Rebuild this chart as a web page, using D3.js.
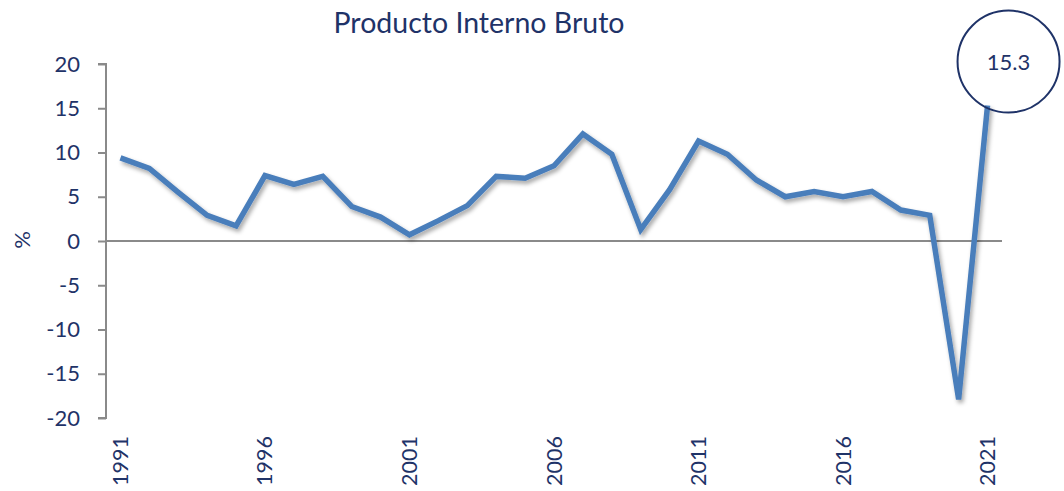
<!DOCTYPE html>
<html><head><meta charset="utf-8">
<script src="https://cdn.jsdelivr.net/npm/d3@7"></script>
<style>body{margin:0;background:#fff}svg{display:block}</style>
</head><body>
<svg id="c" width="1064" height="491"></svg>
<script>
const years = d3.range(1991, 2022).map(String);
const gdpGrowth = [9.4, 8.2, 5.5, 2.9, 1.7, 7.4, 6.4, 7.3, 3.9, 2.7, 0.7, 2.3, 4.0, 7.3, 7.1, 8.5, 12.1, 9.8, 1.3, 5.8, 11.3, 9.8, 6.9, 5.0, 5.6, 5.0, 5.6, 3.5, 2.9, -17.9, 15.3];
const yTicks = [20, 15, 10, 5, 0, -5, -10, -15, -20];
const xTickLabels = ["1991", "1996", "2001", "2006", "2011", "2016", "2021"];
const title = "Producto Interno Bruto";
const yLabel = "%";
const highlightYear = "2021";

const navy = "#1f3368";
const svg = d3.select("#c");
const font = "Lato, 'Open Sans', sans-serif";

const x = d3.scaleBand().domain(years).range([106, 1002]);
const y = d3.scaleLinear().domain([-20, 20]).range([418, 64]);
const cx = d => x(d) + x.bandwidth() / 2;

const defs = svg.append("defs");
const f = defs.append("filter").attr("id", "sh").attr("x", "-10%").attr("y", "-10%").attr("width", "120%").attr("height", "130%");
f.append("feDropShadow").attr("dx", 2).attr("dy", 3).attr("stdDeviation", 2).attr("flood-color", "#000").attr("flood-opacity", 0.35);

svg.append("text").attr("x", 479).attr("y", 33).attr("text-anchor", "middle")
  .attr("font-family", font).attr("font-size", 28.5).attr("fill", navy).text(title);

// y axis
const yAxis = svg.append("g").attr("transform", "translate(106,0)")
  .call(d3.axisLeft(y).tickValues(yTicks).tickSize(8).tickPadding(18).tickFormat(d => String(d)));
yAxis.select(".domain").attr("stroke", "#8a8a8a").attr("stroke-width", 2).attr("d", "M-8,64H0V418H-8");
yAxis.selectAll(".tick line").attr("stroke", "#8a8a8a").attr("stroke-width", 2);
yAxis.selectAll(".tick text").attr("font-family", font).attr("font-size", 22).attr("fill", navy);

// zero line
svg.append("line").attr("x1", 106).attr("x2", 1002).attr("y1", y(0)).attr("y2", y(0))
  .attr("stroke", "#8a8a8a").attr("stroke-width", 2);

// x labels
const xAxis = svg.append("g").attr("transform", "translate(0,431)")
  .call(d3.axisBottom(x).tickValues(xTickLabels).tickSize(0).tickPadding(0));
xAxis.select(".domain").remove();
xAxis.selectAll(".tick text").attr("font-family", font).attr("font-size", 21.5).attr("fill", navy)
  .attr("transform", "rotate(-90)").attr("text-anchor", "end").attr("dy", "0.35em").attr("x", -5).attr("y", 0);

svg.append("text").attr("transform", "translate(30,240) rotate(-90)").attr("text-anchor", "middle")
  .attr("font-family", font).attr("font-size", 22).attr("fill", navy).text(yLabel);

// line
const data = years.map((yr, i) => ({yr, v: gdpGrowth[i]}));
svg.append("path").datum(data)
  .attr("d", d3.line().x(d => cx(d.yr)).y(d => y(d.v)))
  .attr("fill", "none").attr("stroke", "#4a7ebb").attr("stroke-width", 5.5)
  .attr("stroke-linejoin", "miter").attr("filter", "url(#sh)");

// highlight circle
const hv = gdpGrowth[years.indexOf(highlightYear)];
const ccx = cx(highlightYear) + 21, ccy = y(hv) - 44;
svg.append("circle").attr("cx", ccx).attr("cy", ccy).attr("r", 51)
  .attr("fill", "none").attr("stroke", navy).attr("stroke-width", 2);
svg.append("text").attr("x", ccx).attr("y", ccy + 8).attr("text-anchor", "middle")
  .attr("font-family", font).attr("font-size", 22).attr("fill", navy).text(d3.format(".1f")(hv));
</script>
</body></html>
